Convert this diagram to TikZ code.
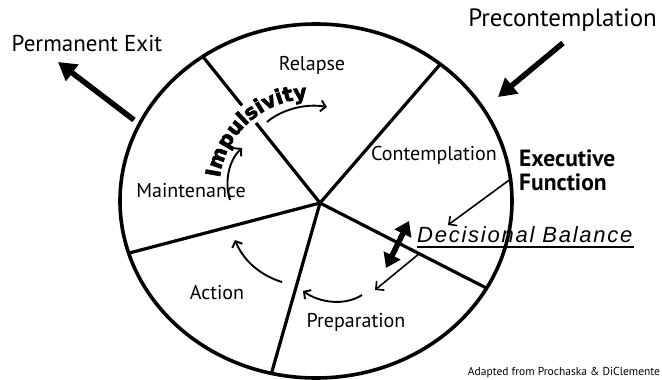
\documentclass[tikz,border=0pt]{standalone}
\usepackage{fontspec}
\setmainfont{PT Sans}
\newfontfamily\heavyfont{DejaVu Sans}[BoldFeatures={FakeBold=3}]
\newfontfamily\balancefont{Liberation Sans}[LetterSpace=8]
\usetikzlibrary{arrows.meta,calc,decorations.text}

\tikzset{
  stagelabel/.style={font=\fontsize{20}{20}\selectfont, inner sep=0pt},
  sidelabel/.style={font=\fontsize{23}{23}\selectfont, inner sep=0pt},
  divider/.style={line width=3.2pt},
  rim/.style={line width=3.6pt},
  bigarrow/.style={line width=5.5pt, -{Triangle[length=18pt,width=20pt]}},
  cyclearrow/.style={line width=1.9pt, -{Straight Barb[length=5pt,width=11pt]}},
  thinarrow/.style={line width=1.6pt, -{Straight Barb[length=6pt,width=12pt]}},
  balancearrow/.style={line width=5.5pt, {Triangle[length=14pt,width=18pt]}-{Triangle[length=14pt,width=18pt]}}
}

\begin{document}
\begin{tikzpicture}[x=1pt,y=-1pt]
\useasboundingbox (0,0) rectangle (662,380);

% wheel centre and the hub where the stage borders meet
\coordinate (c) at (316,201);
\coordinate (hub) at (320,203);
\coordinate (b1) at (192,43);
\coordinate (b2) at (450,53);
\coordinate (b3) at (500,295);
\coordinate (b4) at (267,389);
\coordinate (b5) at (114,257);

% stage borders, clipped to the wheel
\begin{scope}
  \clip (c) ellipse [x radius=196, y radius=177];
  \draw[divider] (hub) -- ($(hub)!0.5!(b1)$);
  \draw[divider] ($(hub)!0.61!(b1)$) -- (b1);
  \draw[divider] (hub) -- (b2);
  \draw[divider] (hub) -- (b3);
  \draw[divider] (hub) -- (b4);
  \draw[divider] (hub) -- (b5);
\end{scope}
\draw[rim] (c) ellipse [x radius=196, y radius=177];

% stage names
\node[stagelabel] (relapse) at (312,65) {Relapse};
\node[stagelabel] (contemplation) at (434,155) {Contemplation};
\node[stagelabel] (maintenance) at (191,191) {Maintenance};
\node[stagelabel] (action) at (217,293) {Action};
\node[stagelabel] (preparation) at (356,322) {Preparation};

% outer labels
\node[sidelabel] (exit) at (87,43) {Permanent Exit};
\node[sidelabel, font=\fontsize{25}{25}\selectfont, anchor=east] (precon) at (657,20) {Precontemplation};
\node[inner sep=0pt, anchor=west, align=left, font=\fontsize{23.5}{24}\selectfont\bfseries] (exec) at (519,170) {Executive\\Function};
\node[inner sep=0pt, anchor=west, font=\fontsize{22}{22}\balancefont\itshape] (balance) at (417,235) {Decisional Balance};
\draw[line width=2.4pt] (417,247) coordinate (ul1) -- (634,247) coordinate (ul2);
\node[inner sep=0pt, font=\fontsize{11.5}{12}\selectfont] (credit) at (564,373) {Adapted from Prochaska \& DiClemente};

% arrows into and out of the wheel
\coordinate (exitfrom) at (134,120);
\coordinate (exitto) at (58,62);
\draw[bigarrow] (exitfrom) -- (exitto);
\coordinate (preconfrom) at (563,43);
\coordinate (preconto) at (498,97);
\draw[bigarrow] (preconfrom) -- (preconto);

% executive function and decisional balance
\coordinate (execfrom) at (512,178);
\coordinate (execto) at (448,225);
\draw[thinarrow] (execfrom) -- (execto);
\coordinate (balfrom) at (420,253);
\coordinate (balto) at (375,290);
\draw[thinarrow] (balfrom) -- (balto);
\coordinate (dbA) at (386,268);
\coordinate (dbB) at (409,221);
\draw[balancearrow] (dbA) -- (dbB);

% cycle through the stages
\coordinate (p1) at (362,295);
\coordinate (p2) at (303,291);
\draw[cyclearrow] (p1) .. controls (345,306) and (320,303) .. (p2);
\coordinate (a1) at (282,282);
\coordinate (a2) at (235,240);
\draw[cyclearrow] (a1) .. controls (262,276) and (244,262) .. (a2);
\coordinate (m1) at (230,200);
\coordinate (m2) at (242,148);
\draw[cyclearrow] (m1) .. controls (224,182) and (229,160) .. (m2);
\coordinate (r1) at (267,122);
\coordinate (r2) at (327,107);
\draw[cyclearrow] (r1) .. controls (281,110) and (305,103) .. (r2);

% impulsivity, set along an arc
\path[decorate, decoration={text along path, text align=center,
  text={|\fontsize{20.5}{20.5}\heavyfont\bfseries|Impulsivity}}]
  (310,190) ++(-174:91) arc[start angle=-174, end angle=-90, radius=91];
\end{tikzpicture}
\end{document}
